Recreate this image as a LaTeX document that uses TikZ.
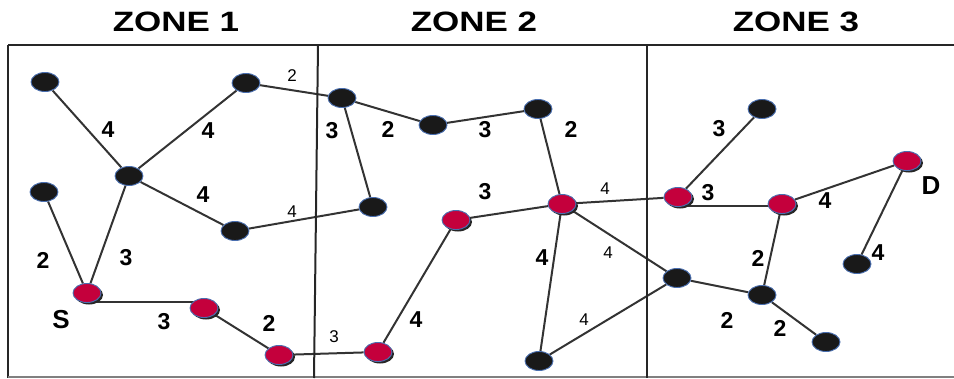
\documentclass[tikz,border=0pt]{standalone}
\usepackage{fontspec}
\setmainfont{Liberation Sans}
\newfontfamily\zonefont[FakeStretch=1.25]{Liberation Sans}
\usepackage{xcolor}
\usetikzlibrary{shapes.geometric,shadows,backgrounds}

\definecolor{hopred}{HTML}{C4003C}
\definecolor{hoprim}{HTML}{4A6FB0}
\definecolor{linkgray}{HTML}{333333}

\begin{document}
\begin{tikzpicture}[
  x=1pt, y=-1pt,
  hop/.style={ellipse, draw=hoprim, line width=0.9pt, fill=black!90, minimum width=28pt, minimum height=19pt, inner sep=0pt},
  route/.style={hop, fill=hopred, drop shadow={shadow xshift=2pt, shadow yshift=-2pt, fill=black!85, opacity=1}},
  link/.style={draw=linkgray, line width=2pt},
  wt/.style={font=\bfseries\fontsize{23}{23}\selectfont},
  wts/.style={font=\fontsize{17}{17}\selectfont},
  endlbl/.style={font=\bfseries\fontsize{26}{26}\selectfont},
  zone/.style={font=\zonefont\bfseries\fontsize{28}{28}\selectfont}
]
\useasboundingbox (0,0) rectangle (954,378);

% frame and zones
\draw[line width=2.5pt, black!85] (8,45) -- (954,45);
\draw[line width=2pt, black!85] (8,45) -- (8,378);
\draw[line width=1.5pt, black!50] (8,377) -- (954,377);
\draw[line width=2pt, black!85] (318,45) -- (314,378);
\draw[line width=2pt, black!85] (647,45) -- (647,378);
\node[zone] (z1) at (176,22) {ZONE 1};
\node[zone] (z2) at (474,22) {ZONE 2};
\node[zone] (z3) at (796,22) {ZONE 3};

% zone 1
\node[hop] (a1) at (45,82) {};
\node[hop] (a2) at (246,83) {};
\node[hop] (hub) at (129,176) {};
\node[hop] (a4) at (44,192) {};
\node[hop] (a5) at (235,231) {};
\node[route] (s) at (87,293) {};
\node[route] (r1) at (204,308) {};
\node[route] (r2) at (279,355) {};

% zone 2
\node[hop] (b1) at (342,98) {};
\node[hop] (b2) at (433,125) {};
\node[hop] (b3) at (538,109) {};
\node[hop] (b5) at (373,207) {};
\node[route] (r3) at (456,220) {};
\node[route] (r4) at (562,204) {};
\node[route] (r5) at (378,352) {};
\node[hop] (b6) at (539,361) {};

% zone 3
\node[route] (c1) at (678,197) {};
\node[hop] (c2) at (762,109) {};
\node[route] (c3) at (782,204) {};
\node[route] (dd) at (907,161) {};
\node[hop] (c5) at (857,264) {};
\node[hop] (c4) at (677,278) {};
\node[hop] (c6) at (762,295) {};
\node[hop] (c7) at (826,342) {};

% links
\begin{scope}[on background layer]
\draw[link] (a1) -- (hub);
\draw[link] (hub) -- (a2);
\draw[link] (hub) -- (a5);
\draw[link] (a4) -- (s);
\draw[link] (hub) -- (s);
\draw[link] (s.-60) -- (s.-60 -| r1);
\draw[link] (r1) -- (r2);
\draw[link] (a2) -- (b1);
\draw[link] (a5) -- (b5);
\draw[link] (b1) -- (b2);
\draw[link] (b2) -- (b3);
\draw[link] (b1) -- (b5);
\draw[link] (b3) -- (r4);
\draw[link] (r3) -- (r4);
\draw[link] (r4) -- (c1);
\draw[link] (r4) -- (b6);
\draw[link] (r4) -- (c4);
\draw[link] (r5) -- (r3);
\draw[link] (r2) -- (r5);
\draw[link] (b6) -- (c4);
\draw[link] (c1) -- (c2);
\draw[link] (c1.-60) -- (c1.-60 -| c3);
\draw[link] (c3) -- (dd);
\draw[link] (dd) -- (c5);
\draw[link] (c3) -- (c6);
\draw[link] (c4) -- (c6);
\draw[link] (c6) -- (c7);
\end{scope}

% weights
\node[wt] (w1) at (108,130) {4};
\node[wt] (w2) at (208,131) {4};
\node[wt] (w3) at (203,195) {4};
\node[wt] (w4) at (43,260) {2};
\node[wt] (w5) at (126,258) {3};
\node[wt] (w6) at (164,322) {3};
\node[wt] (w7) at (269,323) {2};
\node[wts] (w8) at (292,76) {2};
\node[wts] (w9) at (292,212) {4};
\node[wt] (w10) at (332,131) {3};
\node[wt] (w11) at (388,129) {2};
\node[wt] (w12) at (485,130) {3};
\node[wt] (w13) at (571,129) {2};
\node[wt] (w14) at (485,192) {3};
\node[wts] (w15) at (605,189) {4};
\node[wt] (w16) at (542,258) {4};
\node[wts] (w17) at (608,253) {4};
\node[wt] (w18) at (416,320) {4};
\node[wts] (w19) at (334,337) {3};
\node[wts] (w20) at (584,320) {4};
\node[wt] (w21) at (719,129) {3};
\node[wt] (w22) at (708,193) {3};
\node[wt] (w23) at (825,201) {4};
\node[wt] (w24) at (878,253) {4};
\node[wt] (w25) at (758,258) {2};
\node[wt] (w26) at (727,320) {2};
\node[wt] (w27) at (780,328) {2};
\node[endlbl] (src) at (61,320) {S};
\node[endlbl] (dst) at (931,186) {D};
\end{tikzpicture}
\end{document}
